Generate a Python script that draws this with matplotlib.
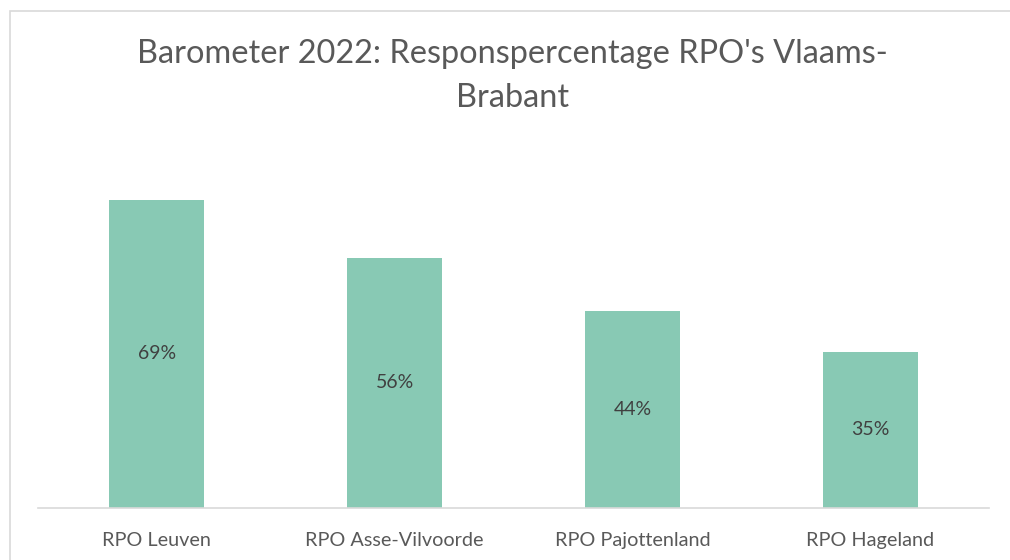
import matplotlib.pyplot as plt
from matplotlib.patches import Rectangle

categories = ["RPO Leuven", "RPO Asse-Vilvoorde", "RPO Pajottenland", "RPO Hageland"]
values = [69, 56, 44, 35]
labels = ["69%", "56%", "44%", "35%"]

plt.rcParams['font.family'] = ['Lato', 'DejaVu Sans']

W, H = 1010, 560
fig = plt.figure(figsize=(W / 100, H / 100), dpi=100)

# rand van de grafiek (loopt rechts en onder buiten beeld)
fig.patches.append(Rectangle((10 / W, -0.1), 1.1, 1 - 11 / H + 0.1, transform=fig.transFigure,
                             fill=False, edgecolor="#d9d9d9", linewidth=1.2))

# plotgebied in pixels
left, right, bottom = 38, 989, 508
ymax = 80
top = bottom - ymax * 4.47
ax = fig.add_axes([left / W, 1 - bottom / H, (right - left) / W, (bottom - top) / H])

x = range(len(categories))
bars = ax.bar(x, values, width=0.40, color="#88c9b4")
ax.set_xlim(-0.5, len(categories) - 0.5)
ax.set_ylim(0, ymax)

for b, lab in zip(bars, labels):
    ax.text(b.get_x() + b.get_width() / 2, b.get_height() / 2, lab,
            ha="center", va="center", fontsize=14, color="#404040")

for s in ["top", "right", "left"]:
    ax.spines[s].set_visible(False)
ax.spines["bottom"].set_color("#d9d9d9")
ax.spines["bottom"].set_linewidth(1.2)
ax.set_yticks([])
ax.set_xticks(list(x))
ax.set_xticklabels(categories, fontsize=14.3, color="#595959")
ax.tick_params(axis="x", length=0, pad=17)

fig.text(0.507, 1 - 54 / H, "Barometer 2022: Responspercentage RPO's Vlaams-",
         ha="center", va="center", fontsize=23.4, color="#595959")
fig.text(0.507, 1 - 98 / H, "Brabant",
         ha="center", va="center", fontsize=23.4, color="#595959")

fig.savefig("out.png", dpi=100)
